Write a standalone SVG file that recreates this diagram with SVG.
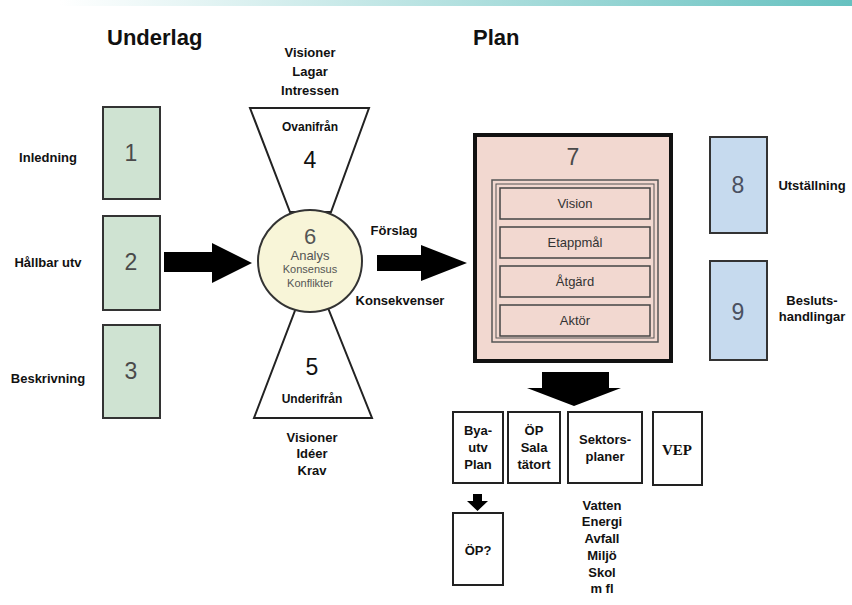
<svg xmlns="http://www.w3.org/2000/svg" width="852" height="605" viewBox="0 0 852 605">
<defs>
<linearGradient id="topbar" x1="0" y1="0" x2="1" y2="0">
<stop offset="0.07" stop-color="#ffffff"/>
<stop offset="0.6" stop-color="#a8dcdb"/>
<stop offset="1" stop-color="#66c1c0"/>
</linearGradient>
<style>
text{font-family:"Liberation Sans",Arial,sans-serif;fill:#111;text-anchor:middle}
.hdr{font-size:22px;font-weight:bold;text-anchor:start}
.lbl{font-size:13px;font-weight:bold}
.sm{font-size:12px;font-weight:bold}
.bt{font-size:13px;font-weight:bold}
.num{font-size:23px;fill:#4a4a4a}
.green{fill:#cfe3d2;stroke:#333;stroke-width:2}
.blue{fill:#c6daee;stroke:#333;stroke-width:2}
.wbox{fill:#fff;stroke:#222;stroke-width:2}
.sub{fill:#f2d8d0;stroke:#444;stroke-width:1.5}
.subt{font-size:13px;fill:#333}
.tri{fill:#fff;stroke:#222;stroke-width:2}
.arr{fill:#000}
</style>
</defs>
<rect x="0" y="0" width="852" height="6" fill="url(#topbar)"/>
<text class="hdr" x="107" y="45">Underlag</text>
<text class="hdr" x="473" y="45">Plan</text>

<g id="n1"><rect class="green" x="103" y="107" width="57" height="92"/><text class="num" x="131" y="161">1</text><text class="lbl" x="48" y="162">Inledning</text></g>
<g id="n2"><rect class="green" x="103" y="216" width="57" height="94"/><text class="num" x="131" y="270">2</text><text class="lbl" x="48" y="267">Hållbar utv</text></g>
<g id="n3"><rect class="green" x="103" y="325" width="57" height="93"/><text class="num" x="131" y="379">3</text><text class="lbl" x="48" y="383">Beskrivning</text></g>

<g id="n4"><polygon class="tri" points="250,108 369,108 331,212 290,212"/>
<text class="lbl" x="310" y="57">Visioner</text><text class="lbl" x="310" y="76">Lagar</text><text class="lbl" x="310" y="95">Intressen</text>
<text class="sm" x="310" y="131">Ovanifrån</text><text class="num" x="310" y="168" style="fill:#111">4</text></g>
<g id="n5"><polygon class="tri" points="296,308 328,308 372,418 254,418"/>
<text class="num" x="312" y="375" style="fill:#111">5</text><text class="sm" x="312" y="403">Underifrån</text>
<text class="lbl" x="312" y="442">Visioner</text><text class="lbl" x="312" y="458">Idéer</text><text class="lbl" x="312" y="475">Krav</text></g>
<g id="n6"><ellipse cx="310" cy="261" rx="52" ry="51" fill="#f8f5d8" stroke="#333" stroke-width="2"/>
<text class="num" x="310" y="244" style="font-size:22px;fill:#555">6</text>
<text x="310" y="260" style="font-size:13px;fill:#555">Analys</text>
<text x="310" y="273" style="font-size:11px;fill:#555">Konsensus</text>
<text x="310" y="287" style="font-size:11px;fill:#555">Konflikter</text></g>

<g id="n7"><rect x="475" y="135" width="196" height="226" fill="#f2d8d0" stroke="#111" stroke-width="4"/>
<text class="num" x="573" y="165">7</text>
<rect x="492" y="180" width="166" height="162" fill="none" stroke="#555" stroke-width="1.5"/>
<rect x="496" y="184" width="158" height="154" fill="none" stroke="#555" stroke-width="1"/>
<rect class="sub" x="500" y="188" width="150" height="31"/><text class="subt" x="575" y="208">Vision</text>
<rect class="sub" x="500" y="227" width="150" height="31"/><text class="subt" x="575" y="247">Etappmål</text>
<rect class="sub" x="500" y="266" width="150" height="31"/><text class="subt" x="575" y="286">Åtgärd</text>
<rect class="sub" x="500" y="305" width="150" height="31"/><text class="subt" x="575" y="325">Aktör</text></g>

<g id="n8"><rect class="blue" x="710" y="137" width="57" height="96"/><text class="num" x="738" y="193" style="fill:#4a5060">8</text><text class="bt" x="812" y="190">Utställning</text></g>
<g id="n9"><rect class="blue" x="710" y="261" width="57" height="99"/><text class="num" x="738" y="320" style="fill:#4a5060">9</text><text class="bt" x="812" y="305">Besluts-</text><text class="bt" x="812" y="321">handlingar</text></g>

<g id="n10"><rect class="wbox" x="453" y="412" width="50" height="71"/><text class="bt" x="478" y="435">Bya-</text><text class="bt" x="478" y="452">utv</text><text class="bt" x="478" y="469">Plan</text></g>
<g id="n11"><rect class="wbox" x="508" y="412" width="52" height="71"/><text class="bt" x="534" y="435">ÖP</text><text class="bt" x="534" y="452">Sala</text><text class="bt" x="534" y="469">tätort</text></g>
<g id="n12"><rect class="wbox" x="568" y="412" width="74" height="71"/><text class="bt" x="605" y="444">Sektors-</text><text class="bt" x="605" y="461">planer</text>
<text class="bt" x="602" y="510">Vatten</text><text class="bt" x="602" y="526">Energi</text><text class="bt" x="602" y="543">Avfall</text><text class="bt" x="602" y="560">Miljö</text><text class="bt" x="602" y="577">Skol</text><text class="bt" x="602" y="593">m fl</text></g>
<g id="n13"><rect class="wbox" x="653" y="412" width="49" height="73"/><text x="677" y="455" style="font-family:'Liberation Serif',serif;font-weight:bold;font-size:15px">VEP</text></g>
<g id="n14"><rect class="wbox" x="453" y="513" width="50" height="72"/><text class="bt" x="478" y="555">ÖP?</text></g>

<g id="connectors">
<polygon class="arr" points="164,252 212,252 212,243 252,263 212,283 212,272 164,272"/>
<polygon class="arr" points="377,255 421,255 421,245 467,263 421,281 421,271 377,271"/>
<polygon class="arr" points="542,372 609,372 609,388 621,388 574,406 527,388 542,388"/>
<polygon class="arr" points="473,494 482,494 482,501 488,501 477.5,511 467,501 473,501"/>
</g>
<text class="lbl" x="394" y="235">Förslag</text>
<text class="lbl" x="400" y="305">Konsekvenser</text>
</svg>
